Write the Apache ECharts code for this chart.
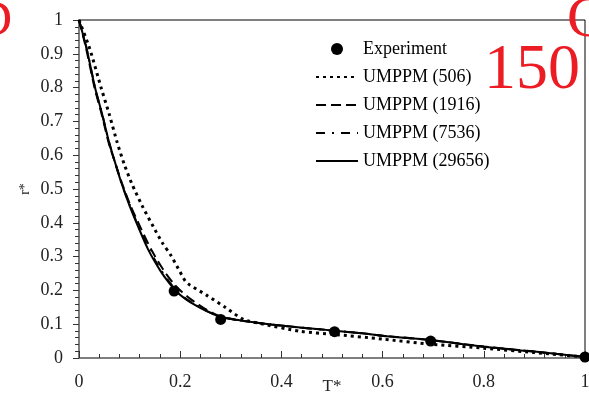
<!DOCTYPE html>
<html>
<head>
<meta charset="utf-8">
<script src="https://cdn.jsdelivr.net/npm/echarts@6/dist/echarts.min.js"></script>
<style>
  html, body { margin: 0; padding: 0; background: #fff; }
  #chart { width: 589px; height: 396px; }
</style>
</head>
<body>
<div id="chart"></div>
<script>
// Dimensionless radius r* versus dimensionless time T*
const xTicks = [0, 0.2, 0.4, 0.6, 0.8, 1];
const yTicks = [0, 0.1, 0.2, 0.3, 0.4, 0.5, 0.6, 0.7, 0.8, 0.9, 1];

const experiment = [
  [0.188, 0.198], [0.280, 0.114], [0.505, 0.078], [0.695, 0.050], [1.0, 0.003]
];

const umppm506 = [
  [0, 1], [0.021, 0.916], [0.044, 0.798], [0.060, 0.720], [0.075, 0.640],
  [0.089, 0.575], [0.104, 0.517], [0.125, 0.450], [0.147, 0.388], [0.165, 0.340],
  [0.181, 0.305], [0.196, 0.265], [0.210, 0.228], [0.219, 0.216], [0.252, 0.186],
  [0.289, 0.150], [0.325, 0.114], [0.358, 0.102], [0.437, 0.079], [0.503, 0.070],
  [0.600, 0.056], [0.695, 0.041], [0.800, 0.029], [0.900, 0.016], [1.0, 0.003]
];

const umppm1916 = [
  [0, 1], [0.014, 0.916], [0.031, 0.798], [0.045, 0.720], [0.059, 0.635],
  [0.072, 0.575], [0.085, 0.517], [0.102, 0.450], [0.121, 0.388], [0.143, 0.320],
  [0.167, 0.260], [0.186, 0.222], [0.203, 0.196], [0.220, 0.175], [0.237, 0.157],
  [0.255, 0.140], [0.281, 0.122], [0.310, 0.113], [0.338, 0.107], [0.380, 0.099],
  [0.437, 0.090], [0.503, 0.081], [0.560, 0.073], [0.602, 0.066], [0.695, 0.053],
  [0.800, 0.034], [0.900, 0.019], [1.0, 0.003]
];

const umppm7536 = [
  [0, 1], [0.015, 0.916], [0.032, 0.798], [0.046, 0.720], [0.060, 0.635],
  [0.072, 0.575], [0.084, 0.517], [0.101, 0.450], [0.118, 0.388], [0.139, 0.320],
  [0.162, 0.260], [0.180, 0.222], [0.195, 0.196], [0.212, 0.175], [0.231, 0.157],
  [0.251, 0.140], [0.279, 0.122], [0.310, 0.113], [0.338, 0.107], [0.380, 0.099],
  [0.437, 0.090], [0.503, 0.081], [0.560, 0.073], [0.602, 0.065], [0.695, 0.053],
  [0.800, 0.033], [0.900, 0.019], [1.0, 0.003]
];

const umppm29656 = [
  [0, 1], [0.015, 0.916], [0.032, 0.798], [0.046, 0.720], [0.060, 0.635],
  [0.072, 0.575], [0.084, 0.517], [0.100, 0.450], [0.117, 0.388], [0.137, 0.320],
  [0.160, 0.260], [0.178, 0.222], [0.193, 0.196], [0.210, 0.175], [0.229, 0.157],
  [0.250, 0.140], [0.279, 0.122], [0.310, 0.113], [0.338, 0.107], [0.380, 0.099],
  [0.437, 0.090], [0.503, 0.081], [0.560, 0.073], [0.602, 0.065], [0.695, 0.053],
  [0.800, 0.033], [0.900, 0.019], [1.0, 0.003]
];

const legendNames = ['Experiment', 'UMPPM (506)', 'UMPPM (1916)', 'UMPPM (7536)', 'UMPPM (29656)'];

const SERIF = '"Liberation Serif", "DejaVu Serif", serif';
const RED = '#ec1c24';
const AXIS_GRAY = '#7f7f7f';

const chart = echarts.init(document.getElementById('chart'), null, { renderer: 'canvas' });

const baseX = { type: 'value', min: 0, max: 1, gridIndex: 0, splitLine: { show: false } };
const baseY = { type: 'value', min: 0, max: 1, gridIndex: 0, splitLine: { show: false } };

function lineSeries(name, data, dash, width) {
  return {
    name: name, type: 'line', data: data, xAxisIndex: 0, yAxisIndex: 0,
    symbol: 'none', smooth: 0.25, z: 3,
    lineStyle: { color: '#000', width: width, type: dash, cap: 'butt' },
    itemStyle: { color: '#000' }
  };
}

function tickText(list) {
  return v => {
    const r = +v.toFixed(2);
    return list.indexOf(r) >= 0 ? String(r) : '';
  };
}

chart.setOption({
  animation: false,
  backgroundColor: '#fff',
  grid: {
    left: 79, right: 4, top: 20, bottom: 38,
    containLabel: false, outerBoundsMode: 'none',
    show: true, borderColor: '#000', borderWidth: 1
  },
  xAxis: [
    Object.assign({}, baseX, {
      interval: 0.2,
      name: 'T*', nameLocation: 'middle', nameGap: 20, nameMoveOverlap: false,
      nameTextStyle: { fontFamily: SERIF, fontSize: 17, color: '#222' },
      axisLine: { show: true, lineStyle: { color: AXIS_GRAY, width: 2 } },
      axisTick: { show: true, inside: true, length: 7, lineStyle: { color: '#333', width: 1 } },
      minorTick: { show: true, splitNumber: 5, length: 4, lineStyle: { color: '#333', width: 1 } },
      axisLabel: { fontFamily: SERIF, fontSize: 18, color: '#222', margin: 15, formatter: tickText(xTicks) }
    }),
    Object.assign({}, baseX, {
      interval: 0.2, show: true,
      axisLine: { show: false },
      axisTick: { show: true, inside: false, length: 3, lineStyle: { color: '#333', width: 1 } },
      axisLabel: { show: false }
    })
  ],
  yAxis: [
    Object.assign({}, baseY, {
      interval: 0.1,
      name: 'r*', nameLocation: 'middle', nameGap: 47, nameRotate: 90, nameMoveOverlap: false,
      nameTextStyle: { fontFamily: SERIF, fontSize: 14, color: '#222' },
      axisLine: { show: true, lineStyle: { color: AXIS_GRAY, width: 2 } },
      axisTick: { show: true, inside: false, length: 4, lineStyle: { color: '#333', width: 1 } },
      minorTick: { show: true, splitNumber: 5, length: 4, lineStyle: { color: '#333', width: 1 } },
      axisLabel: { fontFamily: SERIF, fontSize: 18, color: '#222', margin: 16, formatter: tickText(yTicks) }
    }),
    Object.assign({}, baseY, {
      interval: 0.1, show: true,
      axisLine: { show: false },
      axisTick: { show: true, inside: true, length: 6, lineStyle: { color: '#333', width: 1 } },
      axisLabel: { show: false }
    })
  ],
  legend: {
    orient: 'vertical', left: 315, top: 40, padding: 0,
    itemWidth: 42, itemHeight: 12, itemGap: 10,
    textStyle: { fontFamily: SERIF, fontSize: 18, color: '#000' },
    data: legendNames.map((n, i) => (i === 0 ? { name: n } : { name: n, itemStyle: { opacity: 0 } }))
  },
  series: [
    lineSeries(legendNames[1], umppm506, [3, 4], 3),
    lineSeries(legendNames[2], umppm1916, [10, 5], 2),
    lineSeries(legendNames[3], umppm7536, [9, 7, 2, 7], 2),
    lineSeries(legendNames[4], umppm29656, 'solid', 2),
    {
      name: legendNames[0], type: 'scatter', data: experiment,
      xAxisIndex: 0, yAxisIndex: 0,
      symbol: 'circle', symbolSize: 11, z: 5,
      itemStyle: { color: '#000', opacity: 1 }
    }
  ],
  graphic: [
    { type: 'text', x: 12, y: 22, z: 10,
      style: { text: 'D', font: '50px ' + SERIF, fill: RED, textAlign: 'right', textVerticalAlign: 'middle' } },
    { type: 'text', x: 567, y: 21, z: 10,
      style: { text: 'C', font: '58px ' + SERIF, fill: RED, textAlign: 'left', textVerticalAlign: 'middle' } },
    { type: 'text', x: 532, y: 71, z: 10,
      style: { text: '150', font: '64px ' + SERIF, fill: RED, textAlign: 'center', textVerticalAlign: 'middle' } }
  ]
});
</script>
</body>
</html>
